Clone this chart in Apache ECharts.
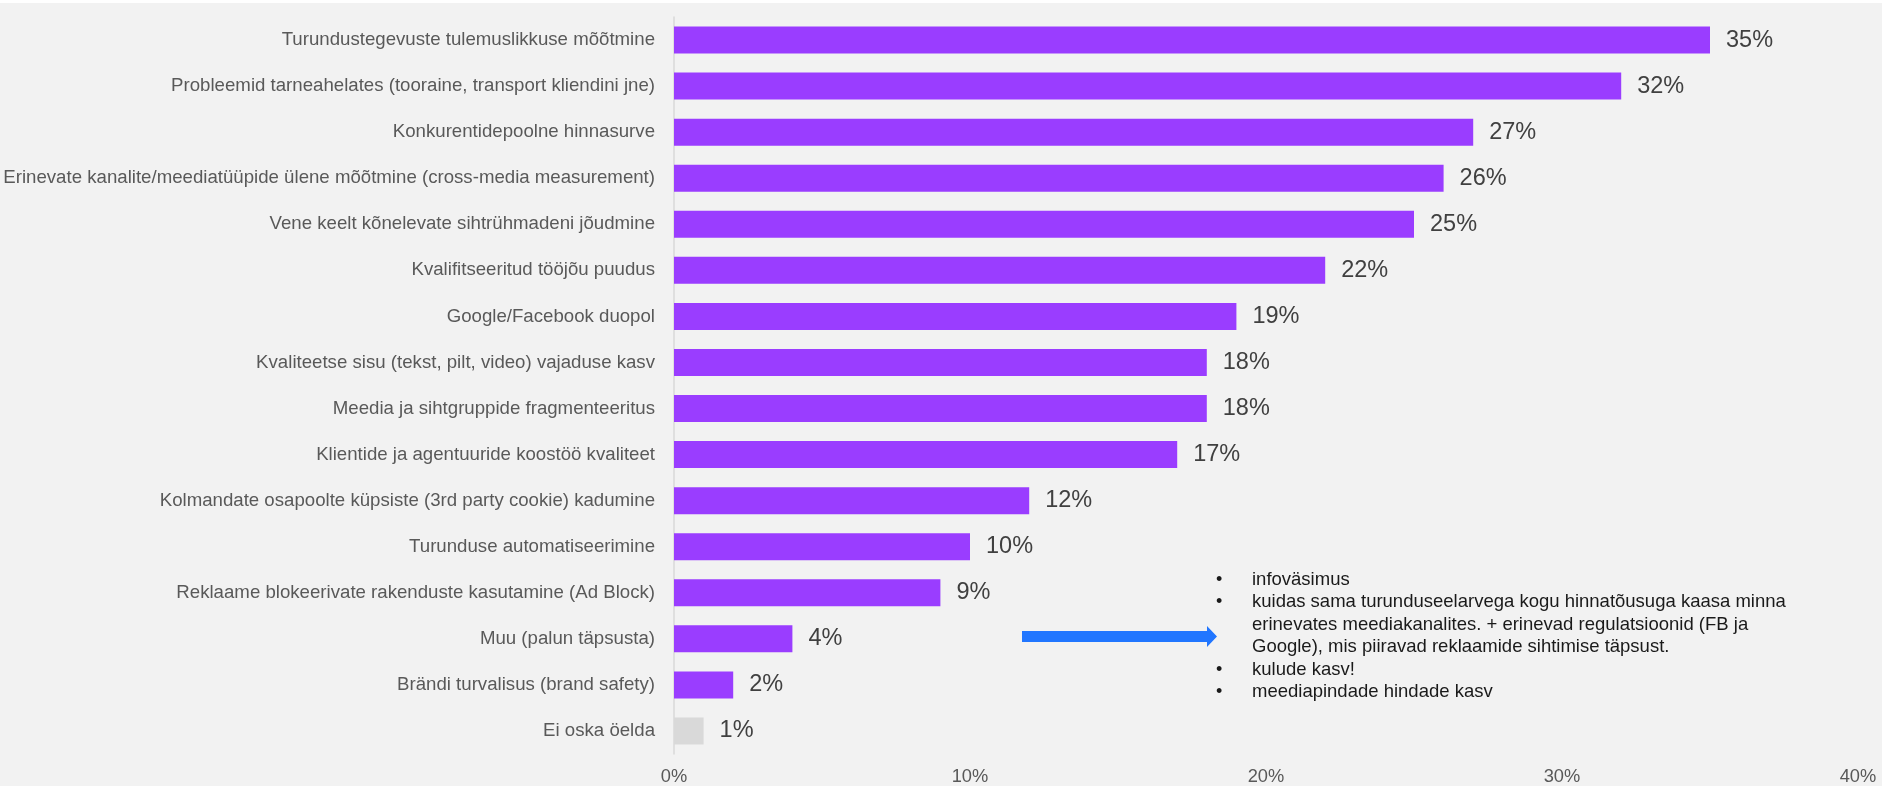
<!DOCTYPE html>
<html>
<head>
<meta charset="utf-8">
<script src="https://cdn.jsdelivr.net/npm/echarts@6/dist/echarts.min.js"></script>
<style>
  html, body { margin: 0; padding: 0; background: #ffffff; }
  #chart { width: 1883px; height: 786px; }
</style>
</head>
<body>
<div id="chart"></div>
<script>
// Survey answers: main challenges in marketing (share of respondents, %)
const categories = [
  'Turundustegevuste tulemuslikkuse mõõtmine',
  'Probleemid tarneahelates (tooraine, transport kliendini jne)',
  'Konkurentidepoolne hinnasurve',
  'Erinevate kanalite/meediatüüpide ülene mõõtmine (cross-media measurement)',
  'Vene keelt kõnelevate sihtrühmadeni jõudmine',
  'Kvalifitseeritud tööjõu puudus',
  'Google/Facebook duopol',
  'Kvaliteetse sisu (tekst, pilt, video) vajaduse kasv',
  'Meedia ja sihtgruppide fragmenteeritus',
  'Klientide ja agentuuride koostöö kvaliteet',
  'Kolmandate osapoolte küpsiste (3rd party cookie) kadumine',
  'Turunduse automatiseerimine',
  'Reklaame blokeerivate rakenduste kasutamine (Ad Block)',
  'Muu (palun täpsusta)',
  'Brändi turvalisus (brand safety)',
  'Ei oska öelda'
];
const values = [35, 32, 27, 26, 25, 22, 19, 18, 18, 17, 12, 10, 9, 4, 2, 1];
const neutralCategory = 'Ei oska öelda';

// Axis ticks (percent)
const axisMin = 0;
const axisMax = 40;
const axisStep = 10;

// "Muu" free-text answers
const otherAnswers = [
  ['infoväsimus'],
  ['kuidas sama turunduseelarvega kogu hinnatõusuga kaasa minna',
   'erinevates meediakanalites. + erinevad regulatsioonid (FB ja',
   'Google), mis piiravad reklaamide sihtimise täpsust.'],
  ['kulude kasv!'],
  ['meediapindade hindade kasv']
];

const FONT = '"Liberation Sans", Arial, Helvetica, sans-serif';
const PURPLE = '#9a3dff';
const GREY = '#d9d9d9';

// build the note block: a bullet per answer, wrapped lines following it
const noteX = 1252, bulletX = 1216, noteTop = 580, lineH = 22.4;
const noteElements = [];
let line = 0;
otherAnswers.forEach(function (answer) {
  noteElements.push({
    type: 'text', x: bulletX, y: noteTop + line * lineH,
    style: { text: '•', font: '18px ' + FONT, fill: '#1a1a1a', verticalAlign: 'middle' }
  });
  answer.forEach(function (t) {
    noteElements.push({
      type: 'text', x: noteX, y: noteTop + line * lineH,
      style: { text: t, font: '18.5px ' + FONT, fill: '#1a1a1a', verticalAlign: 'middle' }
    });
    line++;
  });
});

const chart = echarts.init(document.getElementById('chart'), null, { renderer: 'canvas' });
chart.setOption({
  backgroundColor: '#f2f2f2',
  animation: false,
  grid: { left: 674, right: 25, top: 17, height: 740, containLabel: false },
  xAxis: {
    type: 'value',
    min: axisMin, max: axisMax, interval: axisStep,
    axisLine: { show: false },
    axisTick: { show: false },
    splitLine: { show: false },
    axisLabel: {
      formatter: '{value}%',
      color: '#595959',
      fontFamily: FONT,
      fontSize: 18.3,
      margin: 14
    }
  },
  yAxis: {
    type: 'category',
    inverse: true,
    data: categories,
    axisLine: { show: true, lineStyle: { color: '#d9d9d9', width: 1.5 } },
    axisTick: { show: false },
    axisLabel: {
      color: '#595959',
      fontFamily: FONT,
      fontSize: 18.65,
      margin: 19
    }
  },
  series: [{
    type: 'bar',
    data: values,
    barWidth: 27,
    itemStyle: {
      color: function (p) { return p.name === neutralCategory ? GREY : PURPLE; }
    },
    label: {
      show: true,
      position: 'right',
      distance: 16,
      formatter: '{c}%',
      color: '#404040',
      fontFamily: FONT,
      fontSize: 23.5
    }
  }],
  graphic: [
    { type: 'rect', shape: { x: 0, y: 0, width: 1883, height: 3 }, style: { fill: '#ffffff' }, silent: true },
    { type: 'rect', shape: { x: 1882, y: 0, width: 1, height: 786 }, style: { fill: '#ffffff' }, silent: true },
    {
      // arrow pointing from the "Muu" bar to its answers
      type: 'polygon',
      shape: { points: [[1022, 631], [1207, 631], [1207, 626], [1217, 636.5], [1207, 647], [1207, 642], [1022, 642]] },
      style: { fill: '#2176ff' },
      silent: true
    }
  ].concat(noteElements)
});
</script>
</body>
</html>
